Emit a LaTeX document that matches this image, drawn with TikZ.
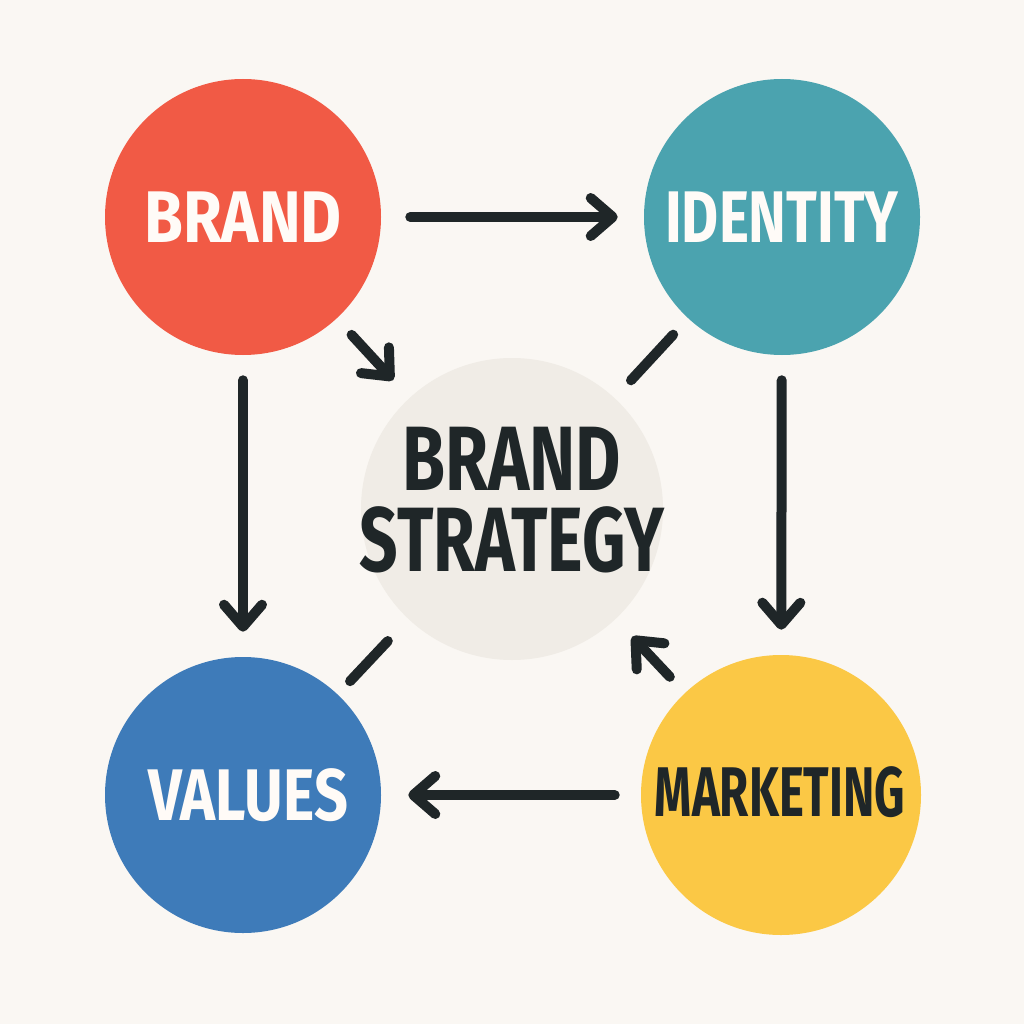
\documentclass[tikz,border=0pt]{standalone}
\usepackage{fontspec}
\setmainfont{Fira Sans}
\newfontfamily\labelfont[FakeStretch=0.82]{Fira Sans Bold}
\usetikzlibrary{arrows.meta}
\definecolor{bgc}{HTML}{FAF7F3}
\definecolor{redc}{HTML}{F15A45}
\definecolor{tealc}{HTML}{4BA3AF}
\definecolor{bluec}{HTML}{3E7BB9}
\definecolor{yellowc}{HTML}{FBC845}
\definecolor{centerc}{HTML}{F0ECE6}
\definecolor{darkc}{HTML}{1F2628}
\definecolor{whitec}{HTML}{FFFBF7}
\newcommand\hsq[2]{\scalebox{#1}[1]{#2}}
\tikzset{
  px/.style={x=0.025cm,y=-0.025cm},
  bubble/.style={circle,minimum size=276*0.025cm,inner sep=0pt},
  lbl/.style={inner sep=0pt,align=center,font=\labelfont\fontsize{52}{56}\selectfont},
  conn/.style={draw=darkc,line width=10*0.025cm,line cap=round,line join=round},
  arr/.style={conn,-{Straight Barb[length=0.55cm,width=0.95cm,round]}},
}
\begin{document}
\begin{tikzpicture}[px]
\useasboundingbox[fill=bgc] (0,0) rectangle (1024,1024);
\node[bubble,fill=redc] (brand) at (243,217) {};
\node[bubble,fill=tealc] (identity) at (782,217) {};
\node[bubble,fill=bluec] (values) at (243,795) {};
\node[bubble,fill=yellowc,minimum size=280*0.025cm] (marketing) at (781,795) {};
\node[circle,fill=centerc,minimum size=302*0.025cm,inner sep=0pt] (center) at (512,509) {};
\node[lbl,text=whitec] (brandlbl) at (brand) {\hsq{1.05}{BRAND}};
\node[lbl,text=whitec] (identitylbl) at (identity) {\hsq{0.95}{IDENTITY}};
\node[lbl,text=whitec] (valueslbl) at (248,795) {\hsq{0.99}{VALUES}};
\node[lbl,text=darkc,font=\labelfont\fontsize{50}{54}\selectfont] (marketinglbl) at (780,792) {\hsq{0.82}{MARKETING}};
\node[lbl,text=darkc,font=\labelfont\fontsize{65}{58}\selectfont] (centerlbl) at (512,500)
  {\hsq{0.93}{BRAND}\\[0pt]\hsq{0.9}{STRATEGY}};
% arrows
\draw[arr,shorten <=29*0.025cm,shorten >=26*0.025cm] (brand) -- (identity);
\draw[arr,shorten <=25*0.025cm,shorten >=25*0.025cm] (brand) -- (values);
\draw[arr,shorten <=25*0.025cm,shorten >=25*0.025cm] (identity) -- (marketing);
\draw[arr,shorten <=26*0.025cm,shorten >=27*0.025cm] (marketing) -- (values);
\draw[arr,shorten <=22*0.025cm,shorten >=24*0.025cm] (brand) -- (center);
\draw[arr,shorten <=22*0.025cm,shorten >=24*0.025cm] (marketing) -- (center);
\draw[conn,shorten <=22*0.025cm,shorten >=24*0.025cm] (identity) -- (center);
\draw[conn,shorten <=18*0.025cm,shorten >=30*0.025cm] (values) -- (center);
\end{tikzpicture}
\end{document}
